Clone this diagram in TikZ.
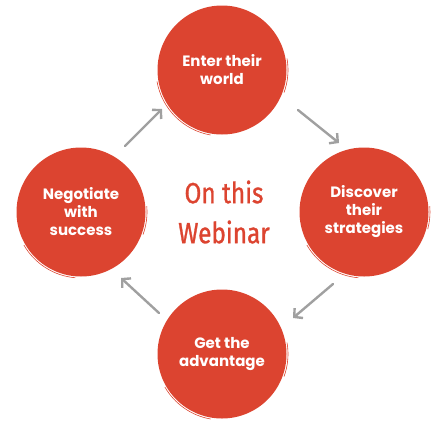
\documentclass[tikz,border=0pt]{standalone}
\usepackage{fontspec}
\setmainfont{Poppins}
\newfontfamily\handfont[FakeBold=1.2]{Fira Sans}
\usetikzlibrary{arrows.meta}
\definecolor{circred}{RGB}{220,68,48}
\definecolor{arrgray}{RGB}{160,160,160}
\tikzset{
  bubble/.style={circle, fill=circred, minimum size=129pt, inner sep=0pt,
    text=white, font=\fontsize{15}{18}\selectfont\bfseries, align=center},
  flow/.style={draw=arrgray, line width=2.4pt, line cap=round,
    -{Straight Barb[length=6pt,width=13pt,line width=2.4pt]}},
  brush/.style={draw=circred, line width=0.6pt}
}
\begin{document}
\begin{tikzpicture}[x=1pt,y=-1pt]
\useasboundingbox (0,0) rectangle (436,426);
\node[bubble] (top) at (222,70) {Enter their\\world};
\node[bubble] (right) at (364,212) {Discover\\their\\strategies};
\node[bubble] (bottom) at (222,354) {Get the\\advantage};
\node[bubble] (left) at (81,212) {Negotiate\\with\\success};
% sketchy brush edges
\draw[brush] (222,70) ++(100:66) arc (100:170:66);
\draw[brush] (222,70) ++(-10:66) arc (-10:20:66);
\draw[brush] (364,212) ++(95:66) arc (95:150:66);
\draw[brush] (364,212) ++(-5:66) arc (-5:15:66);
\draw[brush] (222,354) ++(100:66) arc (100:150:66);
\draw[brush] (222,354) ++(-10:66) arc (-10:20:66);
\draw[brush] (81,212) ++(95:66) arc (95:150:66);
\draw[brush] (81,212) ++(-5:66) arc (-5:20:66);
\node[text=circred, font=\handfont\fontsize{29}{40}\selectfont, align=center, xscale=0.84] (title) at (224,212) {On this\\Webinar};
\coordinate (a1s) at (125,146); \coordinate (a1e) at (162,109);
\coordinate (a2s) at (298,110); \coordinate (a2e) at (339,143);
\coordinate (a3s) at (333,284); \coordinate (a3e) at (293,318);
\coordinate (a4s) at (159,313); \coordinate (a4e) at (121,278);
\draw[flow] (a1s) -- (a1e);
\draw[flow] (a2s) -- (a2e);
\draw[flow] (a3s) -- (a3e);
\draw[flow] (a4s) -- (a4e);
\end{tikzpicture}
\end{document}
